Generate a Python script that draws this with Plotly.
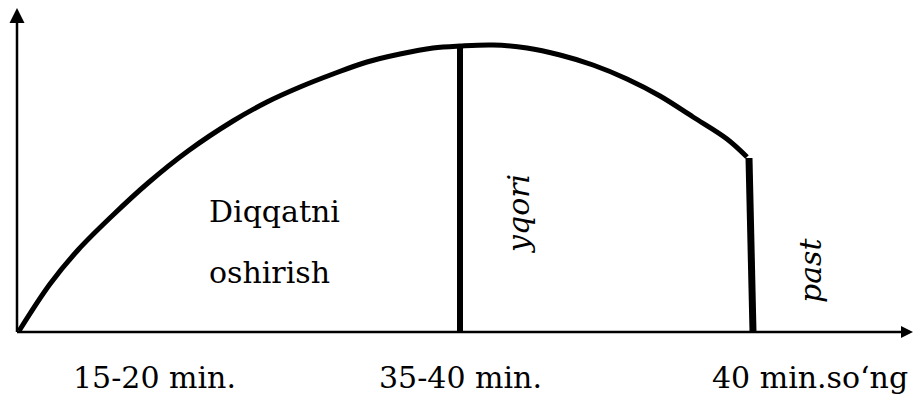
import plotly.graph_objects as go

# Attention curve (abstract units: x = time, y = attention level)
curve_x = [1, 32, 60, 94, 130, 170, 215, 249, 282, 315, 349, 382, 415, 442,
           475, 509, 542, 575, 609, 642, 675, 709, 729]
curve_y = [1, 48, 82, 116, 149, 181, 211, 230, 245, 258, 270, 278, 284, 286,
           287, 284, 277, 267, 253, 236, 215, 193, 175]

# Phase boundaries (x, top)
peak_x = [442, 442]
peak_y = [0, 287]
end_x = [735, 731]
end_y = [0, 174]

# Axis extents
axis_x_end = 895
axis_y_end = 324

tick_labels = ["15-20 min.", "35-40 min.", "40 min.so‘ng"]
tick_pos = [136, 442, 792]

FONT = "DejaVu Serif"
FS = 30

fig = go.Figure()

# axes
fig.add_trace(go.Scatter(x=[-1, -1], y=[0, axis_y_end - 6], mode="lines",
                         line=dict(color="black", width=2.5), hoverinfo="skip"))
fig.add_trace(go.Scatter(x=[-1, axis_x_end - 6], y=[0, 0], mode="lines",
                         line=dict(color="black", width=2.5), hoverinfo="skip"))
fig.add_trace(go.Scatter(x=[-1], y=[axis_y_end], mode="markers",
                         marker=dict(symbol="arrow-up", size=15, color="black"),
                         cliponaxis=False, hoverinfo="skip"))
fig.add_trace(go.Scatter(x=[axis_x_end], y=[0], mode="markers",
                         marker=dict(symbol="arrow-right", size=12, color="black"),
                         cliponaxis=False, hoverinfo="skip"))

fig.add_trace(go.Scatter(x=curve_x, y=curve_y, mode="lines",
                         line=dict(color="black", width=5, shape="spline", smoothing=1),
                         hoverinfo="skip"))
fig.add_trace(go.Scatter(x=peak_x, y=peak_y, mode="lines",
                         line=dict(color="black", width=6), hoverinfo="skip"))
fig.add_trace(go.Scatter(x=end_x, y=end_y, mode="lines",
                         line=dict(color="black", width=7), hoverinfo="skip"))

ann = []
for t, p in zip(tick_labels, tick_pos):
    ann.append(dict(x=p, y=-45, text=t, showarrow=False, xanchor="center",
                    yanchor="middle", font=dict(family=FONT, size=FS, color="black")))
ann.append(dict(x=189, y=121, text="Diqqatni", showarrow=False, xanchor="left",
                yanchor="middle", font=dict(family=FONT, size=FS, color="black")))
ann.append(dict(x=189, y=60, text="oshirish", showarrow=False, xanchor="left",
                yanchor="middle", font=dict(family=FONT, size=FS, color="black")))
ann.append(dict(x=500, y=118, text="<i>yqori</i>", showarrow=False, textangle=-90,
                xanchor="center", yanchor="middle",
                font=dict(family=FONT, size=FS, color="black")))
ann.append(dict(x=792, y=61, text="<i>past</i>", showarrow=False, textangle=-90,
                xanchor="center", yanchor="middle",
                font=dict(family=FONT, size=FS, color="black")))

fig.update_layout(
    width=913, height=398,
    margin=dict(l=0, r=0, t=0, b=0),
    paper_bgcolor="white", plot_bgcolor="white",
    showlegend=False,
    font=dict(family=FONT),
    xaxis=dict(range=[-18, 895], visible=False, fixedrange=True),
    yaxis=dict(range=[-66, 332], visible=False, fixedrange=True),
    annotations=ann,
)

fig.write_html("out.html", config={"displayModeBar": False},
               post_script="document.body.style.margin='0';document.body.style.overflow='hidden';")
